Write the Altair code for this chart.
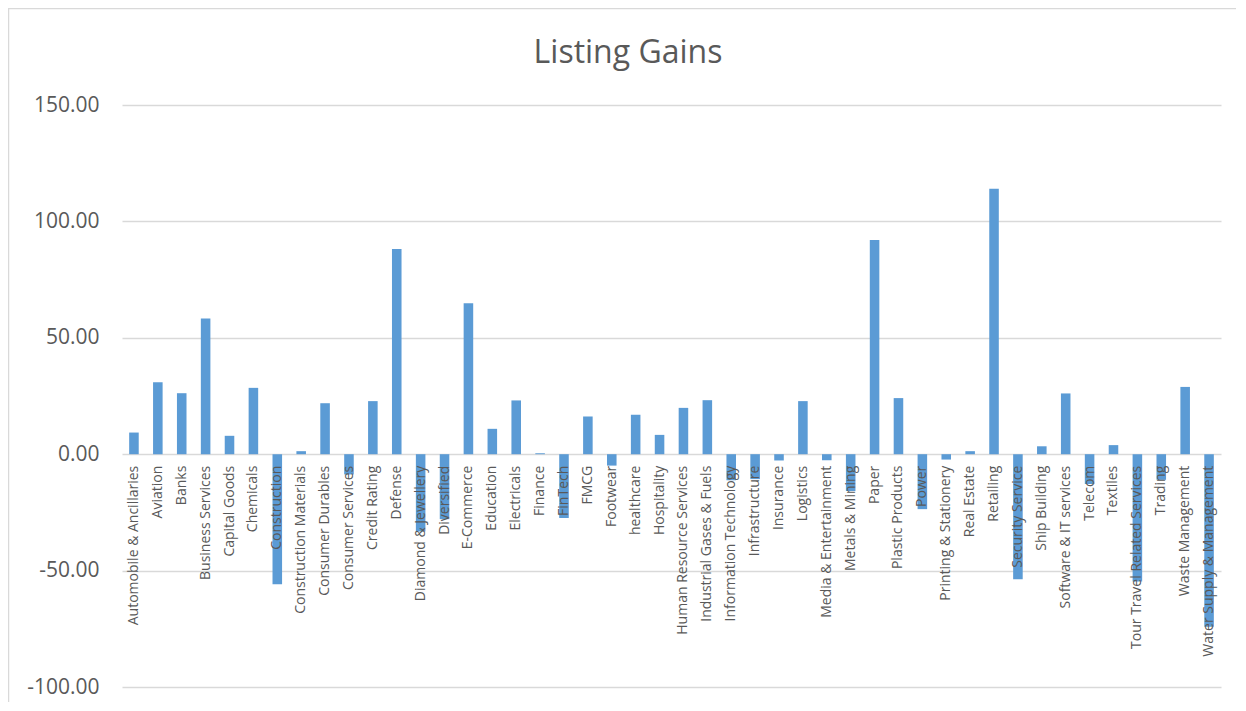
import altair as alt
import pandas as pd

categories = [
    "Automobile & Ancillaries", "Aviation", "Banks", "Business Services", "Capital Goods",
    "Chemicals", "Construction", "Construction Materials", "Consumer Durables",
    "Consumer Services", "Credit Rating", "Defense", "Diamond & Jewellery", "Diversified",
    "E-Commerce", "Education", "Electricals", "Finance", "FinTech", "FMCG", "Footwear",
    "healthcare", "Hospitality", "Human Resource Services", "Industrial Gases & Fuels",
    "Information Technology", "Infrastructure", "Insurance", "Logistics",
    "Media & Entertainment", "Metals & Mining", "Paper", "Plastic Products", "Power",
    "Printing & Stationery", "Real Estate", "Retailing", "Security Service", "Ship Building",
    "Software & IT services", "Telecom", "Textiles", "Tour Travel Related Services",
    "Trading", "Waste Management", "Water Supply & Management",
]
gains = [
    9.3, 30.9, 26.2, 58.3, 7.9,
    28.5, -55.9, 1.3, 21.9,
    -8.7, 22.8, 88.1, -33.2, -27.9,
    64.8, 10.9, 23.1, 0.4, -27.4, 16.2, -4.9,
    16.9, 8.3, 19.9, 23.2,
    -11.2, -10.7, -2.7, 22.8,
    -2.6, -15.8, 92.0, 24.1, -23.6,
    -2.3, 1.3, 114.0, -53.7, 3.4,
    26.1, -12.8, 3.9, -54.7,
    -11.0, 28.9, -74.1,
]
y_ticks = [-100, -50, 0, 50, 100, 150]
title_text = ["Listing Gains"]

df = pd.DataFrame({"Sector": categories, "Gain": gains})

TEXT = "#595959"
GRID = "#D9D9D9"
FONT = "Open Sans"

W, H = 1099, 582
zero_from_bottom = H * 100 / 250  # x axis sits on the zero line

bars = alt.Chart(df).mark_bar(color="#5B9BD5").encode(
    x=alt.X(
        "Sector:N",
        sort=categories,
        scale=alt.Scale(paddingInner=0.6, paddingOuter=0.3),
        axis=alt.Axis(
            title=None,
            labelAngle=270,
            labelFont=FONT,
            labelFontSize=14,
            labelColor=TEXT,
            labelPadding=11,
            labelLimit=400,
            labelOverlap=False,
            ticks=False,
            domain=False,
            offset=-zero_from_bottom,
            zindex=1,
        ),
    ),
    y=alt.Y(
        "Gain:Q",
        scale=alt.Scale(domain=[-100, 150], nice=False),
        axis=alt.Axis(
            title=None,
            values=y_ticks,
            labelExpr="(datum.value < 0 ? '-' : '') + format(abs(datum.value), '.2f')",
            labelFont=FONT,
            labelFontSize=21,
            labelColor=TEXT,
            labelPadding=23,
            ticks=False,
            domain=False,
            grid=True,
            gridColor=GRID,
            gridWidth=1.3,
        ),
    ),
)

frame = alt.Chart(pd.DataFrame({"f": [0]})).mark_rect(
    fill=None, stroke=GRID, strokeWidth=1.5
).encode(
    x=alt.value(-113.5), x2=alt.value(W + 60),
    y=alt.value(-96.5), y2=alt.value(H + 60),
)

title = alt.Chart(pd.DataFrame({"t": title_text})).mark_text(
    font=FONT, fontSize=32, color=TEXT, align="center", baseline="alphabetic"
).encode(
    text="t:N",
    x=alt.value(506),
    y=alt.value(-42),
)

chart = alt.layer(frame, bars, title).properties(
    width=W,
    height=H,
    autosize=alt.AutoSizeParams(type="none"),
    padding={"left": 114, "top": 97, "right": 15, "bottom": 15},
).configure(
    background="white",
    view=alt.ViewConfig(stroke=None),
)

chart.save("out.html", embed_options={"renderer": "svg", "actions": False})
